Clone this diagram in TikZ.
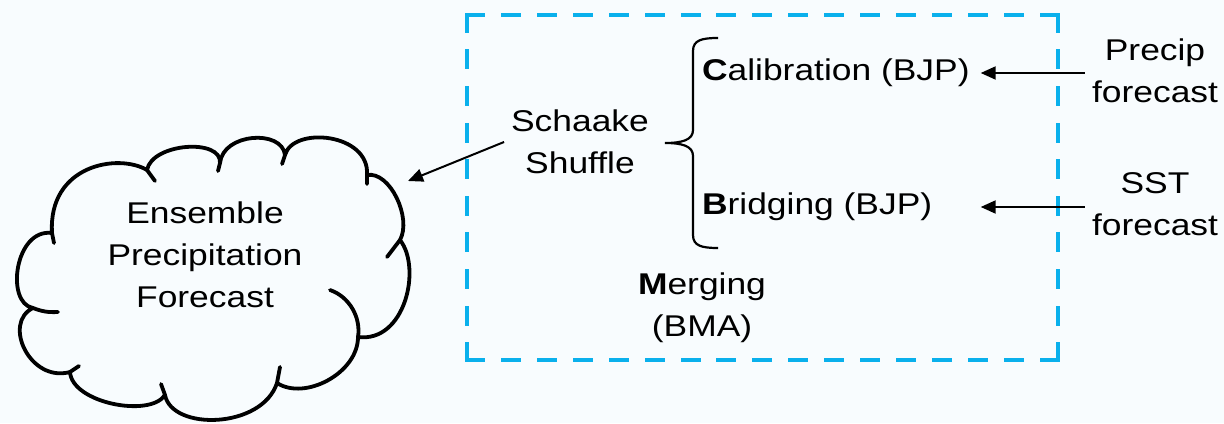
\documentclass[tikz,border=0pt]{standalone}
\usepackage{fontspec}
\setmainfont{Liberation Sans}[FakeStretch=1.18]
\usepackage{tikz}
\usetikzlibrary{arrows.meta,positioning}
\definecolor{pagebg}{RGB}{248,252,254}
\definecolor{boxcyan}{RGB}{10,176,236}

\begin{document}
\begin{tikzpicture}[x=0.5pt,y=0.5pt,
    lbl/.style={font=\fontsize{15}{21}\selectfont, align=center},
    arr/.style={-{Triangle[length=7.5pt,width=6.5pt]}, line width=1pt},
    cloudline/.style={line width=1.9pt, line join=round, line cap=round},
    boxdash/.style={boxcyan, line width=2.25pt, line cap=rect}]
% Canvas
\fill[pagebg] (0,0) rectangle (1224,423);
\useasboundingbox (0,0) rectangle (1224,423);

% Cloud outline, eleven bumps from cusp to cusp (clockwise from the left)
\draw[cloudline]
  (52,190) .. controls (48,258) and (118,270) .. (147,253)
           .. controls (152,280) and (222,285) .. (220,260)
           .. controls (223,290) and (282,294) .. (285,268)
           .. controls (293,297) and (370,290) .. (367,248)
           .. controls (390,252) and (412,205) .. (400,183)
           .. controls (422,155) and (405,80) .. (358,86)
           .. controls (358,50) and (305,22) .. (277,40)
           .. controls (262,-6) and (172,-8) .. (165,28)
           .. controls (150,5) and (72,20) .. (70,51)
           .. controls (30,40) and (2,100) .. (33,115)
           .. controls (5,120) and (15,195) .. (52,190) -- cycle;
% short inner strokes at the cusps
\draw[cloudline] (52,190) -- (54,180)
  (33,115) to[bend right=12] (58,111)
  (70,51) -- (79,57)
  (165,28) -- (161,39)
  (277,40) -- (280,56)
  (358,86) .. controls (361,105) and (350,126) .. (330,133)
  (400,183) -- (387,166)
  (367,248) -- (367,239)
  (285,268) -- (282,259)
  (220,260) -- (218,252)
  (147,253) -- (155,242);

% Dashed frame, one side at a time so each corner gets a dash
\draw[boxdash, dash pattern=on 7.75pt off 10.23pt] (467,408) -- (1058,408);
\draw[boxdash, dash pattern=on 7.75pt off 10.23pt] (467,63) -- (1058,63);
\draw[boxdash, dash pattern=on 7.75pt off 10.55pt] (467,408) -- (467,63);
\draw[boxdash, dash pattern=on 7.75pt off 10.55pt] (1058,408) -- (1058,63);

% Labels
\node[lbl] (cloudtxt) at (205,168) {Ensemble\\Precipitation\\Forecast};
\node[lbl] (schaake) at (580,281) {Schaake\\Shuffle};
\node[lbl, anchor=west] (calib) at (695,350) {\textbf{C}alibration (BJP)};
\node[lbl, anchor=west] (bridge) at (695,216) {\textbf{B}ridging (BJP)};
\node[lbl] (merge) at (702,115) {\textbf{M}erging\\(BMA)};
\node[lbl] (precip) at (1155,352) {Precip\\forecast};
\node[lbl] (sst) at (1155,219) {SST\\forecast};

% Brace grouping the two BJP steps
\draw[line width=1.1pt] (718,385) .. controls (702,385) and (693,383) .. (693,372)
  -- (693,293) .. controls (693,283) and (682,280) .. (665,280)
  .. controls (682,280) and (693,277) .. (693,267)
  -- (693,188) .. controls (693,177) and (702,175) .. (718,175);

% Arrows
\coordinate (cloudtip) at (408,242);
\draw[arr] (schaake.west) -- (cloudtip);
\draw[arr, shorten >=2pt] (precip.west |- calib.east) -- (calib.east);
\draw[arr, shorten >=2pt] (sst.west |- bridge.east) -- (calib.east |- bridge.east);
\end{tikzpicture}
\end{document}
